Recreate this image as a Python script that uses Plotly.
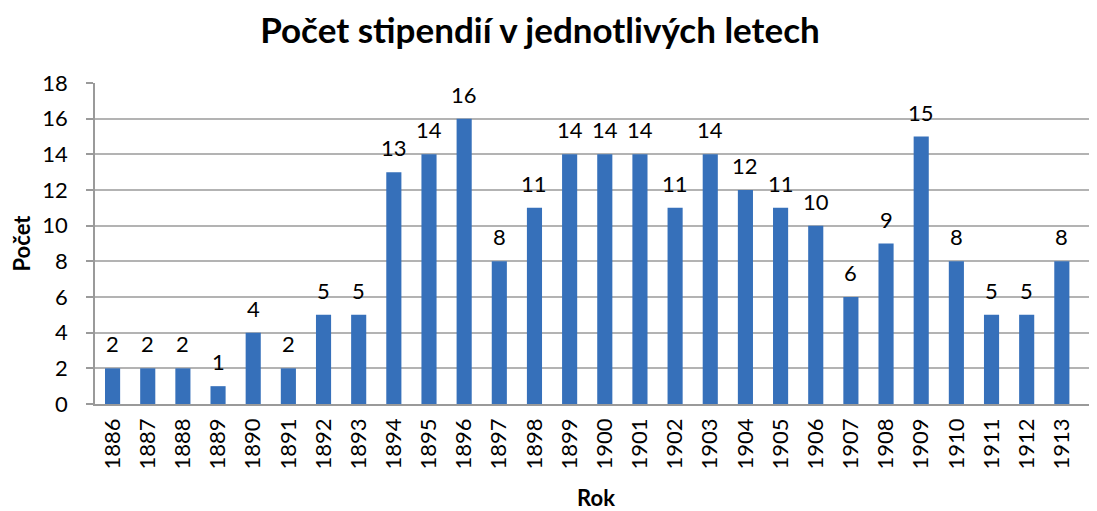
import plotly.graph_objects as go

years = [str(y) for y in range(1886, 1914)]
counts = [2, 2, 2, 1, 4, 2, 5, 5, 13, 14, 16, 8, 11, 14, 14, 14, 11, 14, 12, 11, 10, 6, 9, 15, 8, 5, 5, 8]
y_ticks = [0, 2, 4, 6, 8, 10, 12, 14, 16, 18]

FONT = "Lato, Noto Sans, sans-serif"

fig = go.Figure(go.Bar(
    x=years, y=counts,
    marker=dict(color="#3670BA", line=dict(width=0)),
    hoverinfo="x+y",
))

for i, c in enumerate(counts):
    fig.add_annotation(x=i, y=c, xref="x", yref="y", text=str(c), showarrow=False,
                       yanchor="bottom", yshift=9,
                       font=dict(size=22, color="black", family=FONT))

# page has an 8px body margin; figure sized to fit the window
fig.update_layout(
    width=1089, height=503,
    margin=dict(l=87, r=0, t=75, b=107),
    plot_bgcolor="white", paper_bgcolor="white",
    bargap=0.57,
    showlegend=False,
    title=dict(text="<b>Počet stipendií v jednotlivých letech</b>",
               xref="container", x=0.4885, xanchor="center",
               yref="container", y=0.955, yanchor="middle",
               font=dict(size=35, color="black", family=FONT)),
    font=dict(family=FONT, color="black"),
)
fig.update_xaxes(
    type="category", range=[-0.5, 28.0],
    tickangle=-90, tickfont=dict(size=22), showline=True, linecolor="#9a9a9a", linewidth=1.5,
    ticks="", ticklabelstandoff=4,
    title=dict(text="<b>Rok</b>", font=dict(size=22), standoff=22),
)
fig.update_yaxes(
    range=[0, 18], tickvals=y_ticks, tickfont=dict(size=22),
    showgrid=True, gridcolor="#b3b3b3", gridwidth=1.5,
    showline=True, linecolor="#9a9a9a", linewidth=1.5,
    ticks="outside", ticklen=7, tickcolor="#9a9a9a", tickwidth=1.5,
    ticklabelstandoff=14,
    title=dict(text="<b>Počet</b>", font=dict(size=22), standoff=8),
    zeroline=False,
)

fig.write_html("out.html")
